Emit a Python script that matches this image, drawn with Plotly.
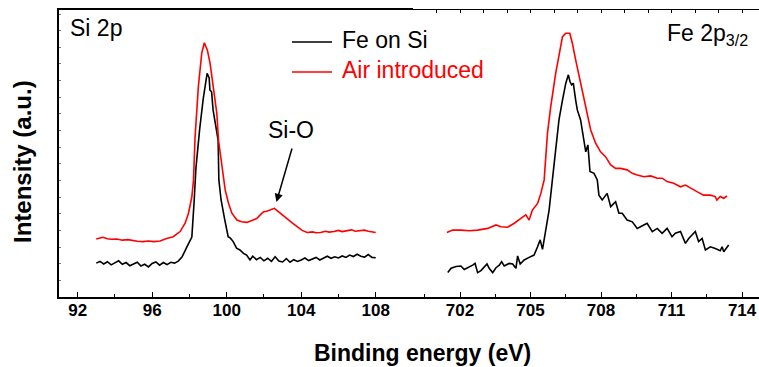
import plotly.graph_objects as go

# ---- Data ----
# Si 2p region, "Fe on Si"
si_ev_fe = [93.0, 93.2, 93.4, 93.6, 93.8, 94.0, 94.2, 94.4, 94.6, 94.8, 95.0, 95.2, 95.4, 95.6, 95.8,
            96.0, 96.2, 96.4, 96.6, 96.8, 97.0, 97.2, 97.4, 97.6, 97.86, 98.13, 98.25, 98.35, 98.55,
            98.74, 98.95, 99.06, 99.10, 99.19, 99.27, 99.46, 99.54, 99.58, 99.70, 99.90, 100.08, 100.2,
            100.35, 100.53, 100.71, 100.9, 101.07, 101.25, 101.4, 101.6, 101.8, 102.0, 102.2, 102.4,
            102.6, 102.8, 103.0, 103.2, 103.4, 103.6, 103.8, 104.0, 104.2, 104.4, 104.6, 104.8, 105.0,
            105.2, 105.4, 105.6, 105.8, 106.0, 106.2, 106.4, 106.6, 106.8, 107.0, 107.2, 107.4, 107.6,
            107.8, 108.0]
si_int_fe = [11.8, 12.4, 11.5, 12.3, 11.2, 11.9, 12.6, 11.4, 12.0, 10.9, 11.6, 12.1, 10.8, 11.4, 10.5,
             11.7, 12.2, 11.1, 12.0, 11.3, 12.1, 11.8, 12.5, 13.9, 17.4, 20.9, 33.0, 45.0, 58.5,
             69.0, 77.9, 76.3, 72.1, 71.5, 65.2, 58.2, 54.7, 40.8, 33.8, 26.8, 21.0, 20.5,
             19.3, 17.0, 16.4, 15.2, 14.6, 12.9, 14.2, 13.0, 13.8, 12.6, 13.5, 12.4,
             14.0, 12.5, 12.2, 13.4, 12.1, 13.0, 12.4, 12.9, 13.6, 12.7, 13.3, 13.8, 12.9,
             13.7, 14.2, 13.5, 14.0, 13.6, 14.3, 13.8, 14.6, 14.1, 14.9, 14.2, 13.9, 14.8,
             13.8, 13.7]

# Si 2p region, "Air introduced"
si_ev_air = [93.0, 93.2, 93.36, 93.6, 93.8, 94.1, 94.4, 94.7, 94.98, 95.2, 95.5, 95.8, 96.1, 96.42,
             96.78, 97.13, 97.5, 97.77, 97.95, 98.13, 98.22, 98.30, 98.48, 98.66, 98.80, 98.96,
             99.11, 99.29, 99.47, 99.56, 99.83, 99.92, 100.10, 100.28, 100.55, 100.8, 101.09,
             101.4, 101.63, 101.8, 101.98, 102.15, 102.34, 102.56, 102.79, 103.0, 103.24, 103.5,
             103.78, 104.05, 104.32, 104.6, 104.8, 105.04, 105.3, 105.5, 105.76, 106.0, 106.2,
             106.47, 106.7, 106.9, 107.19, 107.4, 107.6, 107.73, 108.0]
si_int_air = [20.2, 20.5, 20.8, 20.3, 20.1, 20.2, 19.8, 20.0, 19.6, 19.4, 19.3, 19.5, 19.3, 19.5,
              20.4, 21.0, 22.8, 25.7, 29.2, 34.9, 40.8, 55.3, 73.3, 84.9, 88.6, 86.1,
              81.4, 73.3, 64.0, 54.7, 40.8, 37.3, 32.6, 29.2, 26.8, 26.2, 26.0,
              26.7, 27.4, 28.6, 29.7, 29.9, 30.3, 30.9, 29.7, 28.5, 27.4, 25.9,
              24.5, 23.2, 22.5, 22.7, 22.4, 22.5, 22.9, 22.6, 22.8, 23.2, 22.8,
              23.1, 23.4, 22.9, 23.1, 23.3, 22.9, 22.8, 22.5]

# Fe 2p3/2 region, "Fe on Si"
fe_ev_fe = [701.48, 701.62, 701.83, 702.04, 702.18, 702.35, 702.54, 702.64, 702.75, 702.89, 703.03,
            703.15, 703.24, 703.39, 703.53, 703.67, 703.77, 703.88, 704.09, 704.24, 704.38, 704.45,
            704.56, 704.73, 704.94, 705.15, 705.30, 705.41, 705.51, 705.65, 705.79, 705.93, 706.07,
            706.21, 706.36, 706.50, 706.61, 706.68, 706.75, 706.82, 706.92, 706.99, 707.13, 707.27,
            707.35, 707.44, 707.53, 707.70, 707.84, 707.91, 708.05, 708.26, 708.41, 708.62, 708.76,
            708.90, 709.11, 709.33, 709.54, 709.82, 709.96, 710.18, 710.39, 710.60, 710.81, 711.02,
            711.16, 711.38, 711.59, 711.73, 711.87, 712.01, 712.15, 712.30, 712.44, 712.65, 712.86,
            713.07, 713.15, 713.22, 713.43]
fe_int_fe = [8.5, 10.0, 10.6, 10.8, 9.6, 10.2, 11.1, 11.7, 8.5, 9.2, 10.3,
             11.5, 10.0, 8.5, 10.2, 11.1, 12.3, 10.8, 11.7, 11.5, 10.0, 14.3,
             11.5, 12.9, 13.8, 14.6, 17.5, 19.9, 16.6, 23.3, 30.3, 40.8, 51.2,
             61.7, 68.6, 74.5, 77.4, 75.0, 73.9, 74.5, 68.6, 65.2, 61.7, 54.7,
             50.6, 53.0, 43.7, 43.1, 40.8, 35.5, 33.8, 36.1, 31.5, 33.2, 29.2,
             29.2, 26.8, 26.2, 23.9, 25.1, 25.7, 22.8, 23.9, 22.2, 23.9, 21.0,
             22.2, 22.8, 18.7, 20.4, 21.6, 22.8, 19.3, 20.4, 16.4, 17.5, 16.9,
             16.1, 17.5, 15.8, 18.1]

# Fe 2p3/2 region, "Air introduced"
fe_ev_air = [701.44, 701.69, 702.04, 702.39, 702.75, 703.18, 703.53, 703.74, 704.02, 704.31, 704.59,
             704.80, 704.94, 705.08, 705.30, 705.44, 705.58, 705.72, 705.86, 706.07, 706.36, 706.50,
             706.67, 706.78, 706.92, 707.13, 707.35, 707.56, 707.77, 707.98, 708.19, 708.41, 708.62,
             708.83, 709.11, 709.33, 709.54, 709.82, 710.11, 710.39, 710.60, 710.81, 711.09, 711.38,
             711.59, 711.80, 712.08, 712.36, 712.65, 712.86, 712.93, 713.07, 713.22, 713.36]
fe_int_air = [22.5, 23.3, 23.3, 23.1, 23.3, 23.9, 25.1, 24.5, 24.3, 25.7, 27.4,
              28.6, 26.8, 30.3, 32.6, 36.1, 40.8, 57.0, 66.3, 77.9, 90.7, 91.9,
              91.9, 88.4, 82.6, 74.5, 66.3, 58.2, 53.6, 50.6, 48.9, 46.0, 44.8,
              44.8, 44.3, 43.1, 42.5, 41.9, 42.2, 41.4, 41.4, 40.2, 39.6, 38.4,
              39.0, 37.9, 36.7, 35.5, 35.5, 35.0, 33.8, 35.0, 34.4, 35.2]

si_ticks = [92, 96, 100, 104, 108]
fe_ticks = [702, 705, 708, 711, 714]
series_names = ["Fe on Si", "Air introduced"]
series_colors = ["#000000", "#ff0000"]

FONT = "Liberation Sans, Arial, sans-serif"
L, R, T, B = 59, 0, 10, 70
W, H = 759, 367
PW, PH = W - L - R, H - T - B
split = (413 - L) / PW


def px(x):
    return (x - L) / PW


def py(y):
    return (T + PH - y) / PH


fig = go.Figure()
fig.add_trace(go.Scatter(x=si_ev_fe, y=si_int_fe, mode="lines", name=series_names[0],
                         line=dict(color=series_colors[0], width=1.6), xaxis="x", yaxis="y"))
fig.add_trace(go.Scatter(x=si_ev_air, y=si_int_air, mode="lines", name=series_names[1],
                         line=dict(color=series_colors[1], width=1.6), xaxis="x", yaxis="y"))
fig.add_trace(go.Scatter(x=fe_ev_fe, y=fe_int_fe, mode="lines", name=series_names[0],
                         line=dict(color=series_colors[0], width=1.6), xaxis="x2", yaxis="y"))
fig.add_trace(go.Scatter(x=fe_ev_air, y=fe_int_air, mode="lines", name=series_names[1],
                         line=dict(color=series_colors[1], width=1.6), xaxis="x2", yaxis="y"))
# invisible trace to anchor the thin top axis of the right panel
fig.add_trace(go.Scatter(x=[fe_ev_air[0]], y=[fe_int_air[0]], mode="markers", opacity=0,
                         hoverinfo="skip", xaxis="x3", yaxis="y"))

tickfont = dict(family=FONT, size=17, color="black")

fig.update_layout(
    width=W, height=H,
    margin=dict(l=L, r=R, t=T, b=B),
    paper_bgcolor="white", plot_bgcolor="white",
    showlegend=False,
    xaxis=dict(domain=[0, split], range=[91, 110], showline=True, linewidth=2, linecolor="black",
               mirror=True, ticks="inside", ticklen=5, tickwidth=1.2, tickcolor="black",
               tickvals=si_ticks, ticktext=["<b>%d</b>" % t for t in si_ticks], tickfont=tickfont,
               ticklabelstandoff=-3, showgrid=False, zeroline=False,
               minor=dict(ticks="inside", ticklen=3, dtick=2, tick0=92, tickcolor="black",
                          showgrid=False)),
    xaxis2=dict(domain=[split, 1], range=[700, 714.72], anchor="y", showline=True, linewidth=2,
                linecolor="black", ticks="inside", ticklen=5, tickwidth=1.2, tickcolor="black",
                tickvals=fe_ticks, ticktext=["<b>%d</b>" % t for t in fe_ticks], tickfont=tickfont,
                ticklabelstandoff=-3, showgrid=False, zeroline=False,
                minor=dict(ticks="inside", ticklen=3, dtick=1.5, tick0=702, tickcolor="black",
                           showgrid=False)),
    xaxis3=dict(overlaying="x2", side="top", anchor="y", range=[700, 714.72], showline=True,
                linewidth=1, linecolor="black", ticks="inside", ticklen=3, dtick=1, tick0=700,
                tickcolor="black", showticklabels=False, showgrid=False, zeroline=False),
    yaxis=dict(domain=[0, 1], range=[0, 100], showline=True, linewidth=2, linecolor="black",
               ticks="inside", ticklen=2, tickwidth=1, tickcolor="#777", dtick=5.8, tick0=0,
               showticklabels=False, showgrid=False, zeroline=False),
)

anns = [
    dict(text="Si 2p", x=px(68), y=py(28), xanchor="left", yanchor="middle",
         font=dict(size=23, color="black")),
    dict(text="Fe 2p<sub>3/2</sub>", x=px(665), y=py(35), xanchor="left", yanchor="middle",
         font=dict(size=23, color="black")),
    dict(text=series_names[0], x=px(340), y=py(40), xanchor="left", yanchor="middle",
         font=dict(size=23, color=series_colors[0])),
    dict(text=series_names[1], x=px(340), y=py(70), xanchor="left", yanchor="middle",
         font=dict(size=23, color=series_colors[1])),
    dict(text="Si-O", x=px(291), y=py(130), xanchor="center", yanchor="middle",
         font=dict(size=23, color="black")),
    dict(text="<b>Binding energy (eV)</b>", x=px(422), y=py(353), xanchor="center",
         yanchor="middle", font=dict(size=23, color="black")),
    dict(text="<b>Intensity (a.u.)</b>", x=px(22), y=py(162), xanchor="center", yanchor="middle",
         textangle=-90, font=dict(size=24, color="black")),
]
for a in anns:
    a.update(xref="paper", yref="paper", showarrow=False)
    a["font"]["family"] = FONT
    fig.add_annotation(**a)

# arrow pointing at the Si-O shoulder
fig.add_annotation(x=102.67, y=33.1, xref="x", yref="y", text="", showarrow=True,
                   ax=16, ay=-55, arrowhead=2, arrowsize=1.1, arrowwidth=1.5, arrowcolor="black")

# legend line samples
for i, yy in enumerate([42, 72]):
    fig.add_shape(type="line", xref="paper", yref="paper", x0=px(292), x1=px(332),
                  y0=py(yy), y1=py(yy), line=dict(color=series_colors[i], width=1.6))

fig.write_html("out.html", config={"displayModeBar": False},
               post_script="document.body.style.margin='0';document.body.style.overflow='hidden';")
